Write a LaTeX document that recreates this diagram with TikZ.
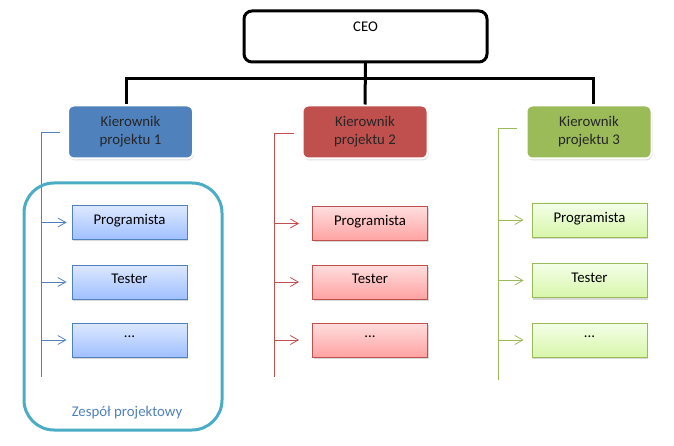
\documentclass[tikz,border=0pt]{standalone}
\usepackage{fontspec}
\setmainfont{Carlito}
\usepackage{xcolor}
\usetikzlibrary{arrows.meta,shadows}

\definecolor{kblue}{HTML}{4F81BD}
\definecolor{kred}{HTML}{C0504D}
\definecolor{kgreen}{HTML}{9BBB59}
\definecolor{teamcol}{HTML}{4BACC6}
\definecolor{bluetop}{HTML}{DDE8FF}
\definecolor{bluebot}{HTML}{A0C0FF}
\definecolor{redtop}{HTML}{FFDEDE}
\definecolor{redbot}{HTML}{FFA2A2}
\definecolor{greentop}{HTML}{F3FFE8}
\definecolor{greenbot}{HTML}{D8F6AA}

\begin{document}
\begin{tikzpicture}[x=1pt, y=-1pt,
    every node/.style={font=\fontsize{14.8}{18}\selectfont},
    boss/.style={rectangle, rounded corners=6pt, draw=white, line width=2pt,
        minimum width=125pt, minimum height=53pt, align=center, text=black!85,
        drop shadow={shadow xshift=1pt, shadow yshift=-2pt, opacity=0.25}},
    worker/.style={rectangle, line width=0.8pt, minimum width=115pt, minimum height=34pt,
        text depth=6pt, drop shadow={shadow xshift=1pt, shadow yshift=-2pt, opacity=0.3}},
    orgline/.style={line width=3pt},
    arrow/.style={line width=0.8pt, -{Straight Barb[length=8pt,width=9pt]}}]
    \useasboundingbox (0,0) rectangle (674,446);

    % Top of the chart
    \node[rectangle, draw, line width=3pt, rounded corners=8pt, minimum width=243pt,
        minimum height=51pt, text depth=20pt] (ceo) at (365.5,36.5) {CEO};

    % Project managers
    \node[boss, fill=kblue] (k1) at (130.5,132) {Kierownik\\projektu 1};
    \node[boss, fill=kred] (k2) at (365,132) {Kierownik\\projektu 2};
    \node[boss, fill=kgreen] (k3) at (589,132) {Kierownik\\projektu 3};

    \draw[orgline] (ceo.south) -- ++(0,15) -| ([xshift=-4pt]k1.north);
    \draw[orgline] (ceo.south) -- (k2.north);
    \draw[orgline] (ceo.south) -- ++(0,15) -| ([xshift=4pt]k3.north);

    % Team of project 1
    \node[worker, draw=kblue, top color=bluetop, bottom color=bluebot] (p1) at (129.5,222.5) {Programista};
    \node[worker, draw=kblue, top color=bluetop, bottom color=bluebot] (t1) at (129.5,282) {Tester};
    \node[worker, draw=kblue, top color=bluetop, bottom color=bluebot] (d1) at (129.5,340) {...};

    % Team of project 2
    \node[worker, draw=kred, top color=redtop, bottom color=redbot] (p2) at (370,223.5) {Programista};
    \node[worker, draw=kred, top color=redtop, bottom color=redbot] (t2) at (370,282) {Tester};
    \node[worker, draw=kred, top color=redtop, bottom color=redbot] (d2) at (370,340) {...};

    % Team of project 3
    \node[worker, draw=kgreen, top color=greentop, bottom color=greenbot] (p3) at (589.5,220) {Programista};
    \node[worker, draw=kgreen, top color=greentop, bottom color=greenbot] (t3) at (589.5,280.5) {Tester};
    \node[worker, draw=kgreen, top color=greentop, bottom color=greenbot] (d3) at (589.5,340) {...};

    % Brackets from the managers
    \coordinate (e1) at (41,377);
    \coordinate (e2) at (274,377);
    \coordinate (e3) at (498,380);
    \draw[kblue, line width=0.8pt] ([xshift=-7pt]k1.west) -| (e1);
    \draw[kred, line width=0.8pt] ([xshift=-8pt,yshift=-1pt]k2.west) -| (e2);
    \draw[kgreen, line width=0.8pt] ([xshift=-9pt,yshift=4pt]k3.west) -| (e3);

    \draw[arrow, kblue] (e1 |- p1.west) -- ([xshift=-5pt]p1.west);
    \draw[arrow, kblue] (e1 |- t1.west) -- ([xshift=-5pt]t1.west);
    \draw[arrow, kblue] (e1 |- d1.west) -- ([xshift=-5pt]d1.west);
    \draw[arrow, kred] (e2 |- p2.west) -- ([xshift=-13pt]p2.west);
    \draw[arrow, kred] (e2 |- t2.west) -- ([xshift=-13pt]t2.west);
    \draw[arrow, kred] (e2 |- d2.west) -- ([xshift=-13pt]d2.west);
    \draw[arrow, kgreen] (e3 |- p3.west) -- ([xshift=-8pt]p3.west);
    \draw[arrow, kgreen] (e3 |- t3.west) -- ([xshift=-8pt]t3.west);
    \draw[arrow, kgreen] (e3 |- d3.west) -- ([xshift=-8pt]d3.west);

    % Project team frame
    \draw[teamcol, line width=3pt, rounded corners=30pt] (24,183) rectangle (222,430);
    \node[text=kblue] (team) at (127,413) {Zespół projektowy};
\end{tikzpicture}
\end{document}
